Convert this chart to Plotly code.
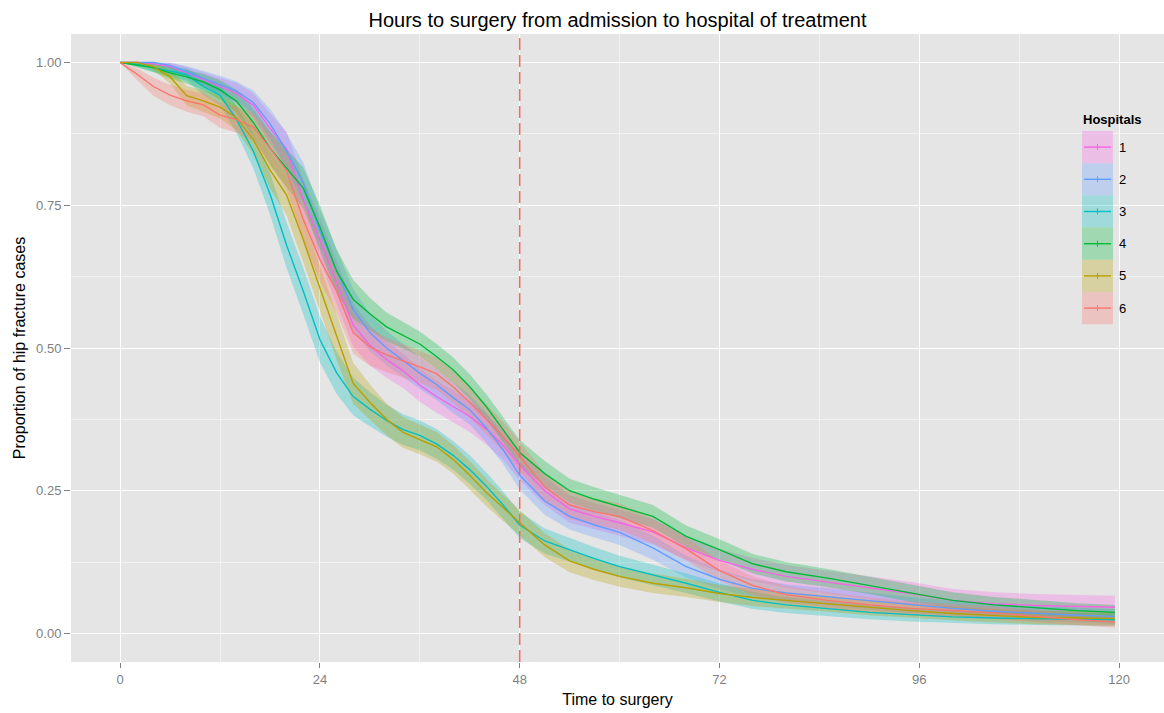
import plotly.graph_objects as go

# Hours since admission at which each curve is sampled
hours = [0, 2, 4, 6, 8, 10, 12, 14, 16, 18,
         20, 22, 24, 26, 28, 30, 32, 34, 36, 38,
         40, 42, 44, 46, 48, 51, 54, 57, 60, 64,
         68, 72, 76, 80, 85, 90, 95, 100, 105, 110,
         115, 119.5]

hospitals = ["1", "2", "3", "4", "5", "6"]
colours = ["#F564E3", "#619CFF", "#00BFC4", "#00BA38", "#B79F00", "#F8766D"]

# Proportion of cases still waiting for surgery
surv_1 = [1.0, 1.0, 0.998, 0.993, 0.982, 0.970, 0.958, 0.946, 0.925, 0.885,
          0.848, 0.760, 0.690, 0.615, 0.540, 0.505, 0.480, 0.460, 0.435, 0.415,
          0.398, 0.380, 0.358, 0.330, 0.295, 0.250, 0.218, 0.205, 0.194, 0.178,
          0.150, 0.128, 0.112, 0.100, 0.090, 0.080, 0.070, 0.058, 0.052, 0.049,
          0.047, 0.046]
surv_2 = [1.0, 1.0, 1.0, 0.995, 0.984, 0.973, 0.962, 0.950, 0.930, 0.893,
          0.845, 0.790, 0.705, 0.635, 0.567, 0.527, 0.500, 0.478, 0.456, 0.436,
          0.413, 0.392, 0.360, 0.322, 0.277, 0.232, 0.205, 0.190, 0.177, 0.150,
          0.117, 0.095, 0.079, 0.071, 0.064, 0.057, 0.050, 0.044, 0.039, 0.035,
          0.032, 0.030]
surv_3 = [1.0, 0.997, 0.991, 0.985, 0.979, 0.958, 0.943, 0.900, 0.845, 0.770,
          0.680, 0.600, 0.515, 0.457, 0.415, 0.393, 0.373, 0.357, 0.347, 0.332,
          0.312, 0.287, 0.258, 0.225, 0.190, 0.162, 0.146, 0.131, 0.117, 0.103,
          0.088, 0.072, 0.058, 0.050, 0.043, 0.037, 0.033, 0.029, 0.027, 0.026,
          0.025, 0.024]
surv_4 = [1.0, 0.996, 0.991, 0.982, 0.975, 0.966, 0.952, 0.932, 0.895, 0.850,
          0.815, 0.780, 0.712, 0.635, 0.585, 0.560, 0.537, 0.522, 0.507, 0.485,
          0.462, 0.432, 0.397, 0.357, 0.317, 0.280, 0.250, 0.235, 0.222, 0.205,
          0.170, 0.147, 0.122, 0.108, 0.097, 0.084, 0.070, 0.058, 0.050, 0.045,
          0.040, 0.037]
surv_5 = [1.0, 1.0, 0.993, 0.975, 0.942, 0.933, 0.922, 0.903, 0.865, 0.812,
          0.768, 0.690, 0.605, 0.520, 0.438, 0.405, 0.375, 0.352, 0.340, 0.327,
          0.305, 0.277, 0.247, 0.220, 0.194, 0.155, 0.127, 0.112, 0.100, 0.088,
          0.080, 0.070, 0.063, 0.058, 0.052, 0.045, 0.040, 0.035, 0.031, 0.028,
          0.027, 0.026]
surv_6 = [1.0, 0.980, 0.958, 0.943, 0.933, 0.926, 0.908, 0.900, 0.887, 0.850,
          0.810, 0.725, 0.655, 0.600, 0.527, 0.502, 0.488, 0.478, 0.467, 0.455,
          0.432, 0.405, 0.375, 0.345, 0.310, 0.257, 0.225, 0.213, 0.205, 0.180,
          0.148, 0.110, 0.084, 0.068, 0.058, 0.050, 0.044, 0.040, 0.036, 0.030,
          0.024, 0.020]

# Half-width of the 95% confidence band around each curve
ci_1 = [0, 0, .003, .006, .010, .013, .016, .018, .021, .026,
        .031, .035, .038, .039, .038, .035, .032, .030, .029, .028,
        .028, .027, .027, .026, .026, .025, .024, .023, .023, .022,
        .021, .020, .020, .020, .020, .020, .020, .020, .020, .020,
        .020, .020]
ci_2 = [0, 0, 0, .006, .010, .013, .015, .017, .021, .026,
        .031, .035, .038, .038, .036, .033, .030, .029, .028, .027,
        .027, .026, .026, .025, .025, .024, .023, .022, .022, .021,
        .019, .017, .016, .015, .015, .014, .014, .013, .013, .013,
        .013, .013]
ci_3 = [0, .004, .007, .009, .011, .015, .018, .024, .030, .036,
        .040, .041, .040, .037, .033, .030, .028, .027, .026, .026,
        .025, .025, .024, .024, .023, .022, .021, .020, .019, .018,
        .017, .016, .015, .014, .013, .012, .012, .011, .011, .011,
        .011, .011]
ci_4 = [0, .005, .008, .010, .012, .014, .017, .020, .025, .030,
        .033, .036, .038, .038, .034, .028, .025, .023, .022, .022,
        .022, .022, .022, .022, .022, .022, .021, .021, .021, .020,
        .019, .018, .017, .017, .016, .015, .015, .014, .014, .013,
        .013, .013]
ci_5 = [0, 0, .006, .012, .017, .019, .020, .022, .026, .032,
        .036, .040, .041, .040, .036, .031, .028, .027, .026, .026,
        .025, .025, .024, .023, .022, .021, .020, .019, .018, .017,
        .016, .015, .015, .014, .014, .013, .013, .012, .012, .012,
        .012, .012]
ci_6 = [0, .010, .016, .018, .019, .020, .022, .023, .024, .028,
        .032, .036, .038, .039, .037, .033, .030, .029, .028, .028,
        .028, .027, .027, .026, .026, .025, .024, .023, .023, .022,
        .020, .018, .016, .015, .014, .013, .012, .012, .011, .011,
        .010, .010]

cutoff_hours = 48
x_ticks = [0, 24, 48, 72, 96, 120]
y_ticks = [0.0, 0.25, 0.5, 0.75, 1.0]

surv = [surv_1, surv_2, surv_3, surv_4, surv_5, surv_6]
bands = [ci_1, ci_2, ci_3, ci_4, ci_5, ci_6]

FONT = "Liberation Sans, Arial, sans-serif"
WIDTH, HEIGHT = 1164, 713
M_L, M_R, M_T, M_B = 71, 0, 34, 51


def rgba(hex_colour, alpha):
    h = hex_colour.lstrip("#")
    r, g, b = int(h[0:2], 16), int(h[2:4], 16), int(h[4:6], 16)
    return f"rgba({r},{g},{b},{alpha})"


def fx(px):
    return (px - M_L) / (WIDTH - M_L - M_R)


def fy(py):
    return (HEIGHT - M_B - py) / (HEIGHT - M_T - M_B)


fig = go.Figure()

# confidence ribbons
for name, col, s, w in zip(hospitals, colours, surv, bands):
    upper = [min(1.0, v + d) for v, d in zip(s, w)]
    lower = [max(0.0, v - d) for v, d in zip(s, w)]
    fig.add_trace(go.Scatter(x=hours, y=upper, mode="lines", line=dict(width=0),
                             hoverinfo="skip", showlegend=False))
    fig.add_trace(go.Scatter(x=hours, y=lower, mode="lines", line=dict(width=0),
                             fill="tonexty", fillcolor=rgba(col, 0.3),
                             hoverinfo="skip", showlegend=False))

# survival curves
for name, col, s in zip(hospitals, colours, surv):
    fig.add_trace(go.Scatter(x=hours, y=s, mode="lines", name=name,
                             line=dict(color=col, width=1.4), showlegend=False))

fig.add_vline(x=cutoff_hours, line=dict(color="#FA6A50", width=1.5, dash="12px,5px"))

# legend panel drawn by hand
shapes = []
annotations = []
shapes.append(dict(type="rect", xref="paper", yref="paper",
                   x0=fx(1075), x1=fx(1151), y0=fy(330), y1=fy(105),
                   fillcolor="white", line=dict(width=0), layer="above"))
annotations.append(dict(text="<b>Hospitals</b>", xref="paper", yref="paper",
                        x=fx(1081), y=fy(119), xanchor="left", yanchor="middle",
                        showarrow=False, font=dict(family=FONT, size=13, color="black")))
row_h = 32.2
for i, (name, col) in enumerate(zip(hospitals, colours)):
    top = 131 + i * row_h
    cy = top + row_h / 2
    shapes.append(dict(type="rect", xref="paper", yref="paper",
                       x0=fx(1082), x1=fx(1113), y0=fy(top + row_h), y1=fy(top),
                       fillcolor=rgba(col, 0.3), line=dict(width=0), layer="above"))
    shapes.append(dict(type="line", xref="paper", yref="paper",
                       x0=fx(1084), x1=fx(1111), y0=fy(cy), y1=fy(cy),
                       line=dict(color=col, width=1.4), layer="above"))
    shapes.append(dict(type="line", xref="paper", yref="paper",
                       x0=fx(1097.5), x1=fx(1097.5), y0=fy(cy - 3), y1=fy(cy + 3),
                       line=dict(color=col, width=1), layer="above"))
    annotations.append(dict(text=name, xref="paper", yref="paper",
                            x=fx(1117), y=fy(cy), xanchor="left", yanchor="middle",
                            showarrow=False, font=dict(family=FONT, size=13, color="black")))

fig.update_layout(
    width=WIDTH, height=HEIGHT,
    margin=dict(l=M_L, r=M_R, t=M_T, b=M_B),
    paper_bgcolor="white", plot_bgcolor="#E5E5E5",
    font=dict(family=FONT, color="black"),
    title=dict(text="Hours to surgery from admission to hospital of treatment",
               xref="paper", x=0.5, xanchor="center",
               yref="container", y=1 - 20 / HEIGHT, yanchor="middle",
               font=dict(family=FONT, size=20, color="black")),
    shapes=shapes, annotations=annotations,
    showlegend=False,
)
fig.update_xaxes(
    range=[-5.9, 125.4], tickvals=x_ticks, ticktext=[str(v) for v in x_ticks],
    showgrid=True, gridcolor="white", gridwidth=1.1, zeroline=False,
    minor=dict(dtick=12, tick0=0, showgrid=True, gridcolor="#F2F2F2", gridwidth=0.6, ticks=""),
    ticks="outside", ticklen=5, tickcolor="#7F7F7F", tickwidth=1,
    tickfont=dict(family=FONT, size=13, color="#7F7F7F"),
    title=dict(text="Time to surgery", standoff=8, font=dict(family=FONT, size=16, color="black")),
    showline=False, automargin=False,
)
fig.update_yaxes(
    range=[-0.05, 1.05], tickvals=y_ticks, ticktext=[f"{v:.2f}" for v in y_ticks],
    showgrid=True, gridcolor="white", gridwidth=1.1, zeroline=False,
    minor=dict(dtick=0.125, tick0=0, showgrid=True, gridcolor="#F2F2F2", gridwidth=0.6, ticks=""),
    ticks="outside", ticklen=6, tickcolor="#7F7F7F", tickwidth=1,
    tickfont=dict(family=FONT, size=13, color="#7F7F7F"),
    title=dict(text="Proportion of hip fracture cases", standoff=6,
               font=dict(family=FONT, size=16, color="black")),
    showline=False, automargin=False,
)

fig.write_html("out.html")
